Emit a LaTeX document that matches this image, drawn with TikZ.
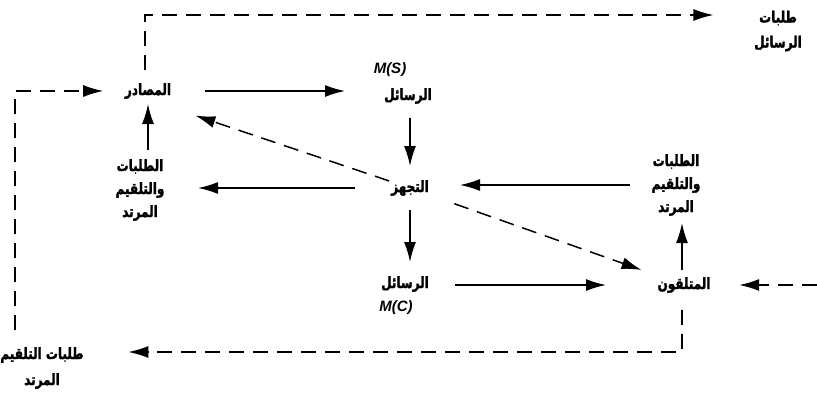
\documentclass[tikz,border=0pt]{standalone}
\usepackage{fontspec}
\usepackage{graphicx}
\usepackage{tikz}
\usetikzlibrary{arrows.meta,positioning,calc}
\TeXXeTstate=1
\newfontfamily\arabicfont[Script=Arabic,BoldFont={DejaVu Sans Bold},BoldFeatures={FakeBold=2}]{DejaVu Sans}
\newfontfamily\latinfont{Liberation Sans}
\newcommand{\rl}[1]{\scalebox{1}[1.3]{\beginR#1\endR}}

\begin{document}
\begin{tikzpicture}[x=1pt,y=-1pt,line width=1.5pt,
  lbl/.style={font=\arabicfont\bfseries\fontsize{12}{23}\selectfont,align=center,inner sep=0pt},
  sym/.style={font=\latinfont\bfseries\itshape\fontsize{15}{17}\selectfont,inner sep=0pt},
  arr/.style={-{Latex[length=20pt,width=12pt]}},
  darr/.style={arr,dash pattern=on 15pt off 9pt}]
  \useasboundingbox (0,0) rectangle (817,396);
  % texts
  \node[lbl] (src)  at (148,91)  {\rl{المصادر}};
  \node[sym] (msl)  at (390,70)  {M(S)};
  \node[lbl] (ms)   at (408,96)  {\rl{الرسائل}};
  \node[lbl] (proc) at (410,188) {\rl{التجهز}};
  \node[lbl] (fbl)  at (140,190) {\rl{الطلبات}\\\rl{والتلقيم}\\\rl{المرتد}};
  \node[lbl] (fbr)  at (676,185) {\rl{الطلبات}\\\rl{والتلقيم}\\\rl{المرتد}};
  \node[lbl] (mc)   at (405,284) {\rl{الرسائل}};
  \node[sym] (mcl)  at (396,308) {M(C)};
  \node[lbl] (recv) at (684,285) {\rl{المتلقون}};
  \node[lbl] (reqm) at (778,31)  {\rl{طلبات}\\[2pt]\rl{الرسائل}};
  \node[lbl] (reqf) at (42,368)  {\rl{طلبات التلقيم}\\[3pt]\rl{المرتد}};
  % bends of the dashed loops
  \coordinate (ctop)  at (145,15);
  \coordinate (cleft) at (15,91);
  \coordinate (cbot)  at (682,352);
  \coordinate (cin)   at (817,285);
  % solid flow
  \draw[arr,shorten <=57pt,shorten >=63pt] (src.center) -- (src.center -| ms.center);
  \draw[arr,shorten <=22pt,shorten >=22pt] (proc.center |- ms.center) -- (proc.center);
  \draw[arr,shorten <=55pt,shorten >=58pt] (proc.center) -- (proc.center -| fbl.center);
  \draw[arr,shorten <=40pt,shorten >=13pt] (src.center |- fbl.center) -- (src.center);
  \draw[arr,shorten <=46pt,shorten >=50pt] (fbr.center) -- (fbr.center -| proc.center);
  \draw[arr,shorten <=22pt,shorten >=22pt] (proc.center) -- (proc.center |- mc.center);
  \draw[arr,shorten <=50pt,shorten >=78pt] (recv.center -| mc.center) -- (recv.center);
  \draw[arr,shorten <=15pt,shorten >=38pt] (cbot |- recv.center) -- (cbot |- fbr.center);
  % dashed flow
  \draw[darr,shorten <=22pt,shorten >=50pt] (proc.center) -- (src.south);
  \draw[darr,shorten <=47pt,shorten >=45pt] (proc.center) -- (recv.center);
  \draw[darr,shorten <=12pt,shorten >=40pt] (ctop |- src.north) -- (ctop) -- (ctop -| reqm.west);
  \draw[darr,shorten <=16pt,shorten >=21pt] (cleft |- reqf.north) -- (cleft) -- (src.west |- cleft);
  \draw[darr,shorten <=16pt,shorten >=44pt] (cbot |- recv.south) -- (cbot) -- (cbot -| reqf.east);
  \draw[darr,shorten >=28pt] (cin) -- (recv.east |- cin);
\end{tikzpicture}
\end{document}
